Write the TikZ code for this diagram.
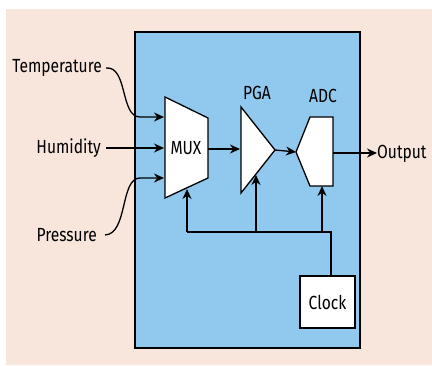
\documentclass[tikz,border=0pt]{standalone}
\usepackage{fontspec}
\setmainfont[FakeStretch=0.82]{Fira Sans}
\usetikzlibrary{arrows.meta}
\definecolor{peach}{RGB}{248,229,220}
\definecolor{chipblue}{RGB}{144,200,238}
\tikzset{
  wire/.style={line width=1.3pt,-{Stealth[length=10pt,width=9pt]}},
  plain/.style={line width=1.3pt},
  blk/.style={draw,fill=white,line width=1.3pt},
  lbl/.style={font=\fontsize{19}{20}\selectfont,inner sep=0pt}
}
\begin{document}
\begin{tikzpicture}[x=1pt,y=-1pt]
\useasboundingbox (0,0) rectangle (432,366);
\fill[peach] (6,9) rectangle (432,365);
\node[draw,fill=chipblue,line width=1.3pt,minimum width=225pt,minimum height=316pt,inner sep=0pt] (chip) at (247.5,190) {};
% MUX
\draw[blk] (165,97) -- (208,118) -- (208,178) -- (165,198) -- cycle;
\node[lbl] (mux) at (186,148) {MUX};
% PGA
\draw[blk] (241,107) -- (275,150) -- (241,193) -- cycle;
\node[lbl] (pga) at (257,93) {PGA};
% ADC
\draw[blk] (310,117) -- (333,117) -- (333,186) -- (310,186) -- (296,152) -- cycle;
\node[lbl] (adc) at (323,96) {ADC};
% Clock
\node[blk,minimum width=55pt,minimum height=52pt,inner sep=0pt,font=\fontsize{19}{20}\selectfont] (clock) at (327.5,302) {Clock};
% coordinates
\coordinate (muxT) at (164,117);
\coordinate (muxH) at (164,148);
\coordinate (muxP) at (164,178);
\coordinate (muxR) at (208,149);
\coordinate (muxB) at (187,189);
\coordinate (pgaL) at (240,149);
\coordinate (pgaR) at (275,150);
\coordinate (pgaB) at (256,175);
\coordinate (adcL) at (296,152);
\coordinate (adcR) at (333,153);
\coordinate (adcB) at (322,186);
\coordinate (bus) at (331,232);
\coordinate (busL) at (187,232);
\coordinate (busM) at (256,232);
\coordinate (busR) at (322,232);
% labels
\node[lbl,anchor=east] (temp) at (102,68) {Temperature};
\node[lbl,anchor=east] (hum) at (101,148) {Humidity};
\node[lbl,anchor=east] (pres) at (97,235) {Pressure};
\node[lbl,anchor=west] (out) at (377,154) {Output};
% input wires
\draw[plain,-{Stealth[length=10pt,width=9pt]}] ([xshift=4pt]temp.east) .. controls (128,66) and (120,117) .. (140,117) -- (muxT);
\draw[wire] ([xshift=5pt]hum.east) -- (muxH);
\draw[plain,-{Stealth[length=10pt,width=9pt]}] ([xshift=8pt]pres.east) .. controls (128,234) and (120,178) .. (140,178) -- (muxP);
% signal chain
\draw[wire] (muxR) -- (pgaL);
\draw[wire] (pgaR) -- (adcL);
\draw[wire] (adcR) -- (adcR -| out.west);
% clock
\draw[plain] (clock.north -| bus) -- (bus) -- (busL);
\draw[wire] (busL) -- (muxB);
\draw[wire] (busM) -- (pgaB);
\draw[wire] (busR) -- (adcB);
\end{tikzpicture}
\end{document}
